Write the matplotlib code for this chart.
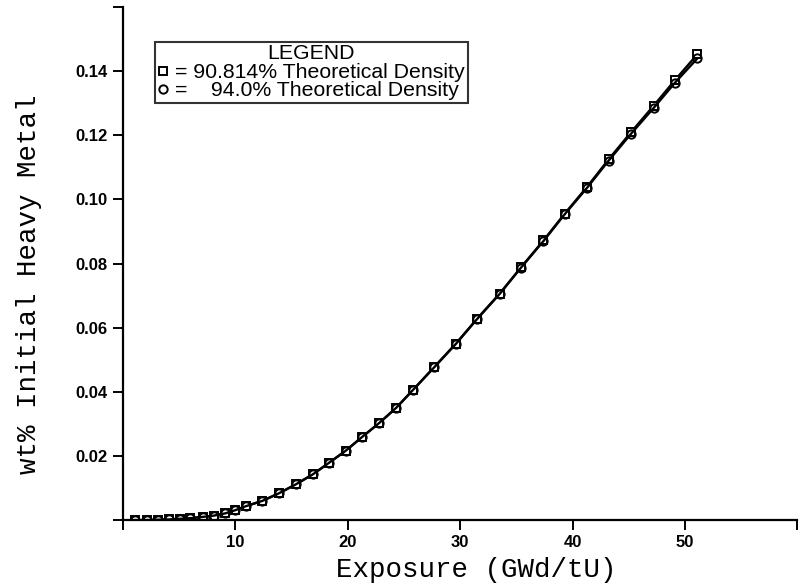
import matplotlib
matplotlib.use("Agg")
import matplotlib.pyplot as plt
from matplotlib.lines import Line2D

# Data
exposure = [1.1, 2.1, 3.1, 4.1, 5.1, 6.0, 7.1, 8.1, 9.1, 10.0, 10.9, 12.4, 13.9,
            15.4, 16.9, 18.3, 19.8, 21.3, 22.8, 24.3, 25.8, 27.7, 29.6, 31.5,
            33.5, 35.4, 37.4, 39.3, 41.3, 43.2, 45.2, 47.2, 49.1, 51.1]
wt_90814 = [0.0000, 0.0000, 0.0001, 0.0002, 0.0004, 0.0006, 0.0010, 0.0014,
            0.0021, 0.0031, 0.0043, 0.0060, 0.0084, 0.0112, 0.0143, 0.0178,
            0.0216, 0.0260, 0.0303, 0.0350, 0.0406, 0.0478, 0.0550, 0.0628,
            0.0706, 0.0788, 0.0872, 0.0956, 0.1040, 0.1125, 0.1210, 0.1292,
            0.1372, 0.1453]
wt_940 = [0.0000, 0.0000, 0.0001, 0.0002, 0.0004, 0.0006, 0.0010, 0.0014,
          0.0021, 0.0031, 0.0043, 0.0060, 0.0084, 0.0112, 0.0143, 0.0178,
          0.0216, 0.0260, 0.0303, 0.0350, 0.0406, 0.0477, 0.0549, 0.0627,
          0.0705, 0.0787, 0.0870, 0.0954, 0.1037, 0.1121, 0.1205, 0.1285,
          0.1364, 0.1440]
series_labels = ["= 90.814% Theoretical Density", "=    94.0% Theoretical Density"]
xticks = [0, 10, 20, 30, 40, 50, 60]
xticklabels = ["", "10", "20", "30", "40", "50", ""]
yticks = [0, 0.02, 0.04, 0.06, 0.08, 0.10, 0.12, 0.14, 0.16]
yticklabels = ["", "0.02", "0.04", "0.06", "0.08", "0.10", "0.12", "0.14", ""]

fig = plt.figure(figsize=(8.01, 5.87), dpi=100)
ax = fig.add_axes([0.1536, 0.114, 0.842, 0.874])

ax.plot(exposure, wt_90814, color="black", lw=1.7, marker="s", ms=6,
        mfc="white", mec="black", mew=1.4)
ax.plot(exposure, wt_940, color="black", lw=1.7, marker="o", ms=6,
        mfc="none", mec="black", mew=1.4)

ax.set_xlim(0, 60)
ax.set_ylim(0, 0.16)
for s in ["top", "right"]:
    ax.spines[s].set_visible(False)
for s in ["left", "bottom"]:
    ax.spines[s].set_linewidth(1.6)

ax.set_xticks(xticks)
ax.set_xticklabels(xticklabels, fontfamily="Liberation Sans", fontsize=12, fontweight="bold")
ax.set_yticks(yticks)
ax.set_yticklabels(yticklabels, fontfamily="Liberation Sans", fontsize=12, fontweight="bold")
ax.tick_params(axis="both", direction="out", length=7, width=1.4, pad=4)

ax.set_xlabel("Exposure (GWd/tU)", fontfamily="Liberation Mono", fontsize=19.8)
ax.set_ylabel("wt% Initial Heavy Metal", fontfamily="Liberation Mono", fontsize=19.8)
ax.xaxis.set_label_coords(0.523, -0.071)
ax.yaxis.set_label_coords(-0.12, 0.46)

handles = [Line2D([], [], ls="none", marker="s", ms=6, mfc="white", mec="black", mew=1.4),
           Line2D([], [], ls="none", marker="o", ms=6, mfc="none", mec="black", mew=1.4)]
leg = ax.legend(handles, series_labels, title="LEGEND", loc="upper left",
                bbox_to_anchor=(0.047, 0.932), frameon=True, fancybox=False,
                handlelength=0.5, handletextpad=0.35, borderpad=0.12, labelspacing=-0.05,
                borderaxespad=0.0,
                prop={"family": "Liberation Sans", "size": 15.3},
                title_fontproperties={"family": "Liberation Sans", "size": 15.3})
leg.get_frame().set_edgecolor("black")
leg.get_frame().set_linewidth(1.5)
leg._legend_box.sep = 0

fig.savefig("out.png", dpi=100)
